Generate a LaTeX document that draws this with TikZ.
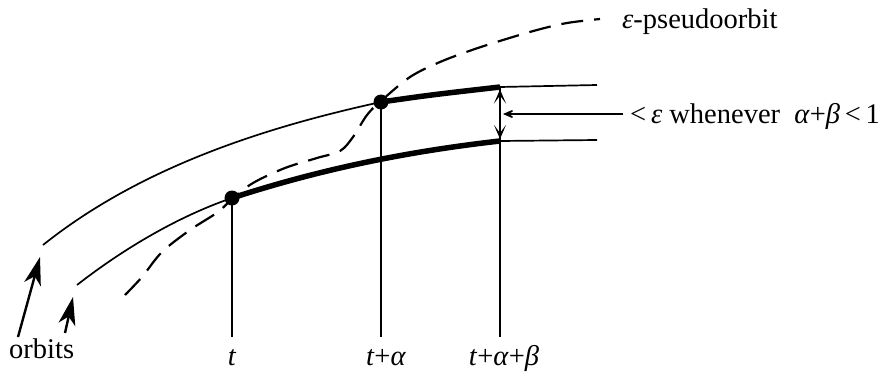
\documentclass[tikz,border=0pt]{standalone}
\usepackage{fontspec}
\setmainfont{Liberation Serif}
\usetikzlibrary{arrows.meta}
\begin{document}
\begin{tikzpicture}[x=1pt,y=-1pt,
  thinorbit/.style={line width=1.7pt},
  thickorbit/.style={line width=5.5pt},
  pseudo/.style={line width=2.2pt, dash pattern=on 22pt off 11pt},
  dotnode/.style={circle, fill=black, inner sep=0pt, minimum size=15pt},
  lbl/.style={font=\fontsize{28.5}{32}\selectfont, inner sep=0pt},
  tickline/.style={line width=1.3pt},
  orbitarrow/.style={-{Stealth[length=28pt,width=17pt,inset=8pt]}, line width=2.4pt},
  barbarrow/.style={-{Stealth[length=16pt,width=14pt,inset=10pt]}, line width=2pt},
  dblarrow/.style={{Stealth[length=14pt,width=12pt,inset=8pt]}-{Stealth[length=14pt,width=12pt,inset=8pt]}, line width=1.8pt},
]
\useasboundingbox (0,0) rectangle (879,383);

% named points
\coordinate (u0) at (43,245);
\coordinate (u2) at (500,87);
\coordinate (u3) at (597,85);
\coordinate (l0) at (77,285);
\coordinate (l2) at (500,141);
\coordinate (l3) at (597,140);
\coordinate (b1) at (232,337);
\coordinate (b2) at (381,337);
\coordinate (b3) at (500,337);
\coordinate (ht) at (623,114);
\coordinate (hh) at (503,114);

\node[dotnode] (d1) at (232,198) {};
\node[dotnode] (d2) at (381,102) {};

% orbits (thin parts)
\draw[thinorbit] (u0) .. controls (143,165) and (271,126) .. (d2.center);
\draw[thinorbit] (l0) .. controls (127,246) and (182,215) .. (d1.center);
\draw[thinorbit] (u2) -- (u3);
\draw[thinorbit] (l2) -- (l3);

% thick parts
\draw[thickorbit] (d2.center) .. controls (430,95) .. (u2);
\draw[thickorbit] (d1.center) .. controls (330,166) and (420,150) .. (l2);

% vertical lines
\draw[tickline] (d1.center) -- (b1);
\draw[tickline] (d2.center) -- (b2);
\draw[tickline] (u2) -- (b3);

% pseudo orbit
\draw[pseudo] plot[smooth, tension=0.55] coordinates {(125,295) (142,277) (162,252) (190,230) (218,212) (232,199) (253,183) (285,168) (317,158) (340,151) (353,137) (367,115) (381,101) (410,77) (440,62) (472,50) (503,40) (537,30) (567,23) (600,19)};

% distance arrows
\draw[dblarrow] (500,89.5) -- (500,139);
\draw[barbarrow] (ht) -- (hh);

% orbit arrows
\draw[orbitarrow] (18,337) -- (40,257);
\draw[orbitarrow] (65,333) -- (73,297);

% labels
\node[lbl, anchor=base west] (lo) at (9,358) {orbits};
\node[lbl, anchor=base west] (lp) at (622,28) {\textit{ε}-pseudoorbit};
\node[lbl, anchor=base west] (le) at (630,123) {<\,\textit{ε} whenever \ \textit{α}+\textit{β}\,<\,1};
\node[lbl, anchor=base] (lt1) at (232,365) {\textit{t}};
\node[lbl, anchor=base] (lt2) at (386,365) {\textit{t}+\textit{α}};
\node[lbl, anchor=base] (lt3) at (504,365) {\textit{t}+\textit{α}+\textit{β}};
\end{tikzpicture}
\end{document}
